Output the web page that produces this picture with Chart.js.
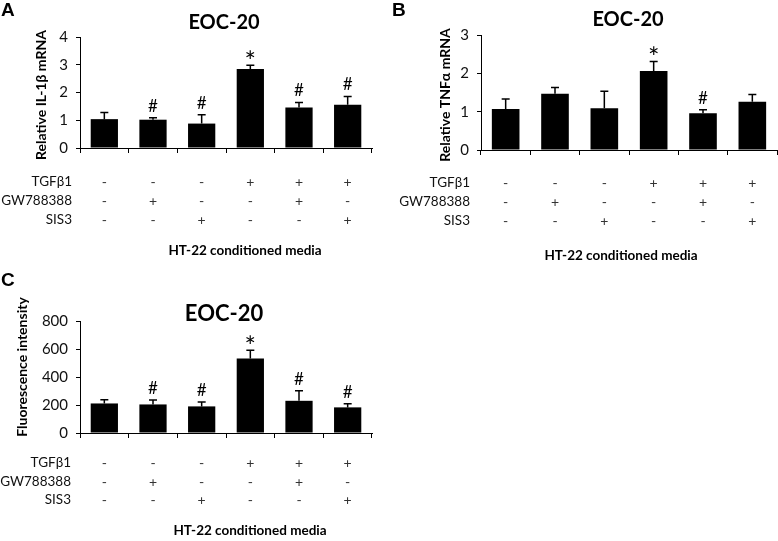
<!DOCTYPE html>
<html>
<head>
<meta charset="utf-8">
<script src="https://cdn.jsdelivr.net/npm/chart.js@4.4.1/dist/chart.umd.min.js"></script>
<style>
  html, body { margin: 0; padding: 0; background: #fff; }
  body { width: 778px; height: 541px; position: relative; overflow: hidden; }
  canvas { position: absolute; }
</style>
</head>
<body>
<canvas id="chartA" width="389" height="270" style="left:0;top:0"></canvas>
<canvas id="chartB" width="389" height="270" style="left:389px;top:0"></canvas>
<canvas id="chartC" width="389" height="271" style="left:0;top:270px"></canvas>
<script>
// ---- data ----
const groups = ['Ctrl', 'GW', 'SIS3', 'TGF', 'TGF+GW', 'TGF+SIS3'];

const il1bMean = [1.04, 1.02, 0.88, 2.85, 1.46, 1.56];
const il1bErr  = [0.24, 0.07, 0.32, 0.13, 0.18, 0.30];
const il1bMarks = ['', '#', '#', '*', '#', '#'];

const tnfMean = [1.07, 1.47, 1.09, 2.06, 0.96, 1.26];
const tnfErr  = [0.26, 0.16, 0.44, 0.25, 0.09, 0.19];
const tnfMarks = ['', '', '', '*', '#', ''];

const fluoMean = [211, 204, 190, 532, 230, 183];
const fluoErr  = [26, 31, 31, 59, 71, 26];
const fluoMarks = ['', '#', '#', '*', '#', '#'];

const rowNames = ['TGF\u03b21', 'GW788388', 'SIS3'];
const tgfRow = ['-', '-', '-', '+', '+', '+'];
const gwRow  = ['-', '+', '-', '-', '+', '-'];
const sisRow = ['-', '-', '+', '-', '-', '+'];

const FONT = 'Lato';

// error bars, marks, and all the surrounding text
const decor = {
    id: 'decor',
    afterDatasetsDraw(chart, args, o) {
        const ctx = chart.ctx, x = chart.scales.x, y = chart.scales.y;
        const vals = chart.data.datasets[0].data;
        ctx.save();
        ctx.strokeStyle = '#000';
        ctx.fillStyle = '#000';
        ctx.lineWidth = 1.5;
        vals.forEach((v, i) => {
            const cx = x.getPixelForValue(i);
            const y0 = y.getPixelForValue(v);
            const y1 = y.getPixelForValue(v + o.err[i]);
            ctx.beginPath();
            ctx.moveTo(cx, y0); ctx.lineTo(cx, y1);
            ctx.moveTo(cx - 4, y1); ctx.lineTo(cx + 4, y1);
            ctx.stroke();
            if (o.marks[i]) {
                const star = o.marks[i] === '*';
                ctx.font = (star ? '27px ' : '17px ') + FONT;
                ctx.textAlign = 'center';
                ctx.textBaseline = 'alphabetic';
                ctx.fillText(o.marks[i], cx, y1 + (star ? 6 : -6));
            }
        });
        ctx.restore();
    },
    afterDraw(chart, args, o) {
        const ctx = chart.ctx, x = chart.scales.x;
        ctx.save();
        ctx.fillStyle = '#000';
        ctx.textBaseline = 'middle';
        // panel letter
        ctx.font = 'bold 19px "Liberation Sans"';
        ctx.textAlign = 'left';
        ctx.fillText(o.letter, o.letterX, o.letterY);
        // title
        ctx.font = 'bold ' + o.titleSize + 'px ' + FONT;
        ctx.textAlign = 'center';
        ctx.fillText('EOC-20', o.titleX, o.titleY);
        // y title
        ctx.save();
        ctx.translate(o.yTitleX, o.yTitleY);
        ctx.rotate(-Math.PI / 2);
        ctx.font = 'bold 14px ' + FONT;
        ctx.fillText(o.yTitle, 0, 0);
        ctx.restore();
        // condition table
        const rows = [tgfRow, gwRow, sisRow];
        rows.forEach((row, r) => {
            ctx.font = '13.5px ' + FONT;
            ctx.fillStyle = '#111';
            ctx.textAlign = 'right';
            ctx.fillText(rowNames[r], o.rowX, o.rowY[r]);
            ctx.fillStyle = '#333';
            ctx.textAlign = 'center';
            ctx.font = '14px ' + FONT;
            row.forEach((s, i) => ctx.fillText(s, x.getPixelForValue(i), o.rowY[r]));
        });
        // caption
        ctx.fillStyle = '#000';
        ctx.font = 'bold 13.5px ' + FONT;
        ctx.textAlign = 'center';
        ctx.fillText('HT-22 conditioned media', o.capX, o.capY);
        ctx.restore();
    }
};

function makeChart(id, values, yMax, yStep, pad, yWidth, deco) {
    return new Chart(document.getElementById(id), {
        type: 'bar',
        data: {
            labels: groups,
            datasets: [{
                data: values,
                backgroundColor: '#000',
                borderColor: '#000',
                borderWidth: 0,
                barPercentage: 0.56,
                categoryPercentage: 1
            }]
        },
        options: {
            responsive: false,
            animation: false,
            devicePixelRatio: 1,
            layout: { padding: pad },
            plugins: { legend: { display: false }, tooltip: { enabled: false }, decor: deco },
            scales: {
                x: {
                    grid: { display: true, offset: true, drawOnChartArea: false, drawTicks: true, tickLength: 5, color: '#000' },
                    border: { display: true, color: '#000', width: 1 },
                    ticks: { display: false },
                    afterFit: s => { s.height = 5; }
                },
                y: {
                    min: 0, max: yMax,
                    grid: { drawOnChartArea: false, drawTicks: true, tickLength: 4, color: '#000' },
                    border: { display: true, color: '#000', width: 1 },
                    ticks: { stepSize: yStep, padding: 8, color: '#111', font: { family: FONT, size: 15 } },
                    afterFit: s => { s.width = yWidth; }
                }
            }
        },
        plugins: [decor]
    });
}

makeChart('chartA', il1bMean, 4, 1, { left: 0, right: 17, top: 37, bottom: 117 }, 80, {
    err: il1bErr, marks: il1bMarks,
    letter: 'A', letterX: 1, letterY: 11,
    titleX: 224, titleY: 23, titleSize: 20,
    yTitle: 'Relative IL-1\u03b2 mRNA', yTitleX: 41, yTitleY: 95,
    rowX: 72, rowY: [182, 201, 220],
    capX: 245, capY: 251
});

makeChart('chartB', tnfMean, 3, 1, { left: 0, right: 1, top: 35, bottom: 115 }, 92, {
    err: tnfErr, marks: tnfMarks,
    letter: 'B', letterX: 3, letterY: 11,
    titleX: 239, titleY: 20, titleSize: 20,
    yTitle: 'Relative TNF\u03b1 mRNA', yTitleX: 56, yTitleY: 95,
    rowX: 81, rowY: [183, 202, 221],
    capX: 232, capY: 256
});

makeChart('chartC', fluoMean, 800, 200, { left: 0, right: 17, top: 51, bottom: 103 }, 80, {
    err: fluoErr, marks: fluoMarks,
    letter: 'C', letterX: 1, letterY: 11,
    titleX: 224, titleY: 44, titleSize: 22,
    yTitle: 'Fluorescence intensity', yTitleX: 22, yTitleY: 97,
    rowX: 71, rowY: [193, 212, 230],
    capX: 250, capY: 261
});
</script>
</body>
</html>
